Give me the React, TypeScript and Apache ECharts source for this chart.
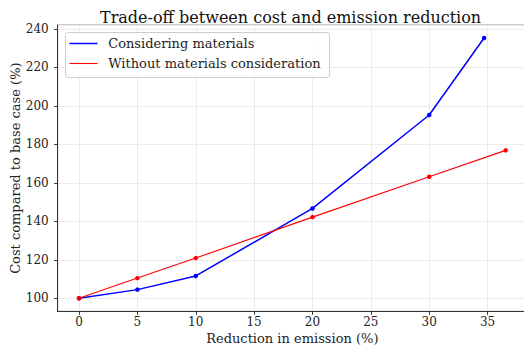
import React, { useEffect, useRef } from "react";
import * as echarts from "echarts";

const TITLE = "Trade-off between cost and emission reduction";
const X_NAME = "Reduction in emission (%)";
const Y_NAME = "Cost compared to base case (%)";
const SERIES_NAMES = ["Considering materials", "Without materials consideration"];

const consideringX = [0, 5, 10, 20, 30, 34.7];
const consideringY = [100, 104.5, 111.6, 146.7, 195.3, 235.3];
const withoutX = [0, 5, 10, 20, 30, 36.55];
const withoutY = [100, 110.5, 120.9, 142.2, 163.2, 176.9];

const FONT = "DejaVu Serif";

function pairs(xs: number[], ys: number[]) {
  return xs.map((x, i) => [x, ys[i]]);
}

export default function App() {
  const ref = useRef<HTMLDivElement>(null);
  useEffect(() => {
    if (!ref.current) return;
    const chart = echarts.init(ref.current, null, { renderer: "svg" });
    const allX = consideringX.concat(withoutX);
    const allY = consideringY.concat(withoutY);
    const xmin = Math.min(...allX), xmax = Math.max(...allX);
    const ymin = Math.min(...allY), ymax = Math.max(...allY);
    const xm = (xmax - xmin) * 0.05, ym = (ymax - ymin) * 0.05;
    const axisCommon = {
      type: "value" as const,
      axisLine: { show: true, onZero: false, lineStyle: { color: "#333", width: 1 } },
      axisTick: { show: true, length: 3.5, lineStyle: { color: "#333" } },
      splitLine: { show: true, lineStyle: { color: "#ebebeb", width: 1 } },
      axisLabel: {
        color: "#222",
        fontFamily: FONT,
        fontSize: 12,
        showMinLabel: false,
        showMaxLabel: false,
      },
      nameLocation: "middle" as const,
      nameMoveOverlap: false,
      nameTextStyle: { color: "#222", fontFamily: FONT, fontSize: 13 },
    };
    chart.setOption({
      animation: false,
      backgroundColor: "#fff",
      title: {
        text: TITLE,
        left: 95,
        top: 4,
        textStyle: { fontFamily: FONT, fontSize: 16, fontWeight: "normal", color: "#111" },
      },
      grid: {
        left: 57.7,
        right: -3,
        top: 25,
        bottom: 39.7,
        containLabel: false,
        outerBoundsMode: "none",
        show: true,
        borderColor: "#999",
        borderWidth: 1,
        backgroundColor: "transparent",
      },
      xAxis: {
        ...axisCommon,
        min: xmin - xm,
        max: xmax + xm,
        splitNumber: 8,
        name: X_NAME,
        nameGap: 21,
        axisLabel: { ...axisCommon.axisLabel, margin: 5 },
      },
      yAxis: {
        ...axisCommon,
        min: ymin - ym,
        max: ymax + ym,
        splitNumber: 7,
        name: Y_NAME,
        nameGap: 36,
        axisLabel: { ...axisCommon.axisLabel, margin: 9 },
      },
      series: [
        {
          name: SERIES_NAMES[0],
          type: "line",
          data: pairs(consideringX, consideringY),
          symbol: "circle",
          symbolSize: 4.5,
          lineStyle: { color: "#0000ff", width: 1.5 },
          itemStyle: { color: "#0000ff" },
        },
        {
          name: SERIES_NAMES[1],
          type: "line",
          data: pairs(withoutX, withoutY),
          symbol: "circle",
          symbolSize: 4.5,
          lineStyle: { color: "#ff0000", width: 1.1 },
          itemStyle: { color: "#ff0000" },
        },
      ],
      graphic: [
        {
          type: "group",
          left: 65,
          top: 32,
          z: 100,
          children: [
            {
              type: "rect",
              z: 100,
              shape: { x: 0, y: 0, width: 264, height: 45, r: 3 },
              style: { fill: "rgba(255,255,255,0.85)", stroke: "#cccccc", lineWidth: 1 },
            },
            {
              type: "line",
              z: 101,
              shape: { x1: 4, y1: 11, x2: 32, y2: 11 },
              style: { stroke: "#0000ff", lineWidth: 1.5 },
            },
            {
              type: "text",
              z: 101,
              x: 42.7,
              y: 11,
              style: {
                text: SERIES_NAMES[0],
                font: `13px '${FONT}'`,
                fill: "#222",
                verticalAlign: "middle",
              },
            },
            {
              type: "line",
              z: 101,
              shape: { x1: 4, y1: 31, x2: 32, y2: 31 },
              style: { stroke: "#ff0000", lineWidth: 1.1 },
            },
            {
              type: "text",
              z: 101,
              x: 42.7,
              y: 31,
              style: {
                text: SERIES_NAMES[1],
                font: `13px '${FONT}'`,
                fill: "#222",
                verticalAlign: "middle",
              },
            },
          ],
        },
      ],
    });
    return () => chart.dispose();
  }, []);
  return (
    <div
      ref={ref}
      style={{ position: "fixed", left: 0, top: 0, width: 524, height: 351 }}
    />
  );
}
